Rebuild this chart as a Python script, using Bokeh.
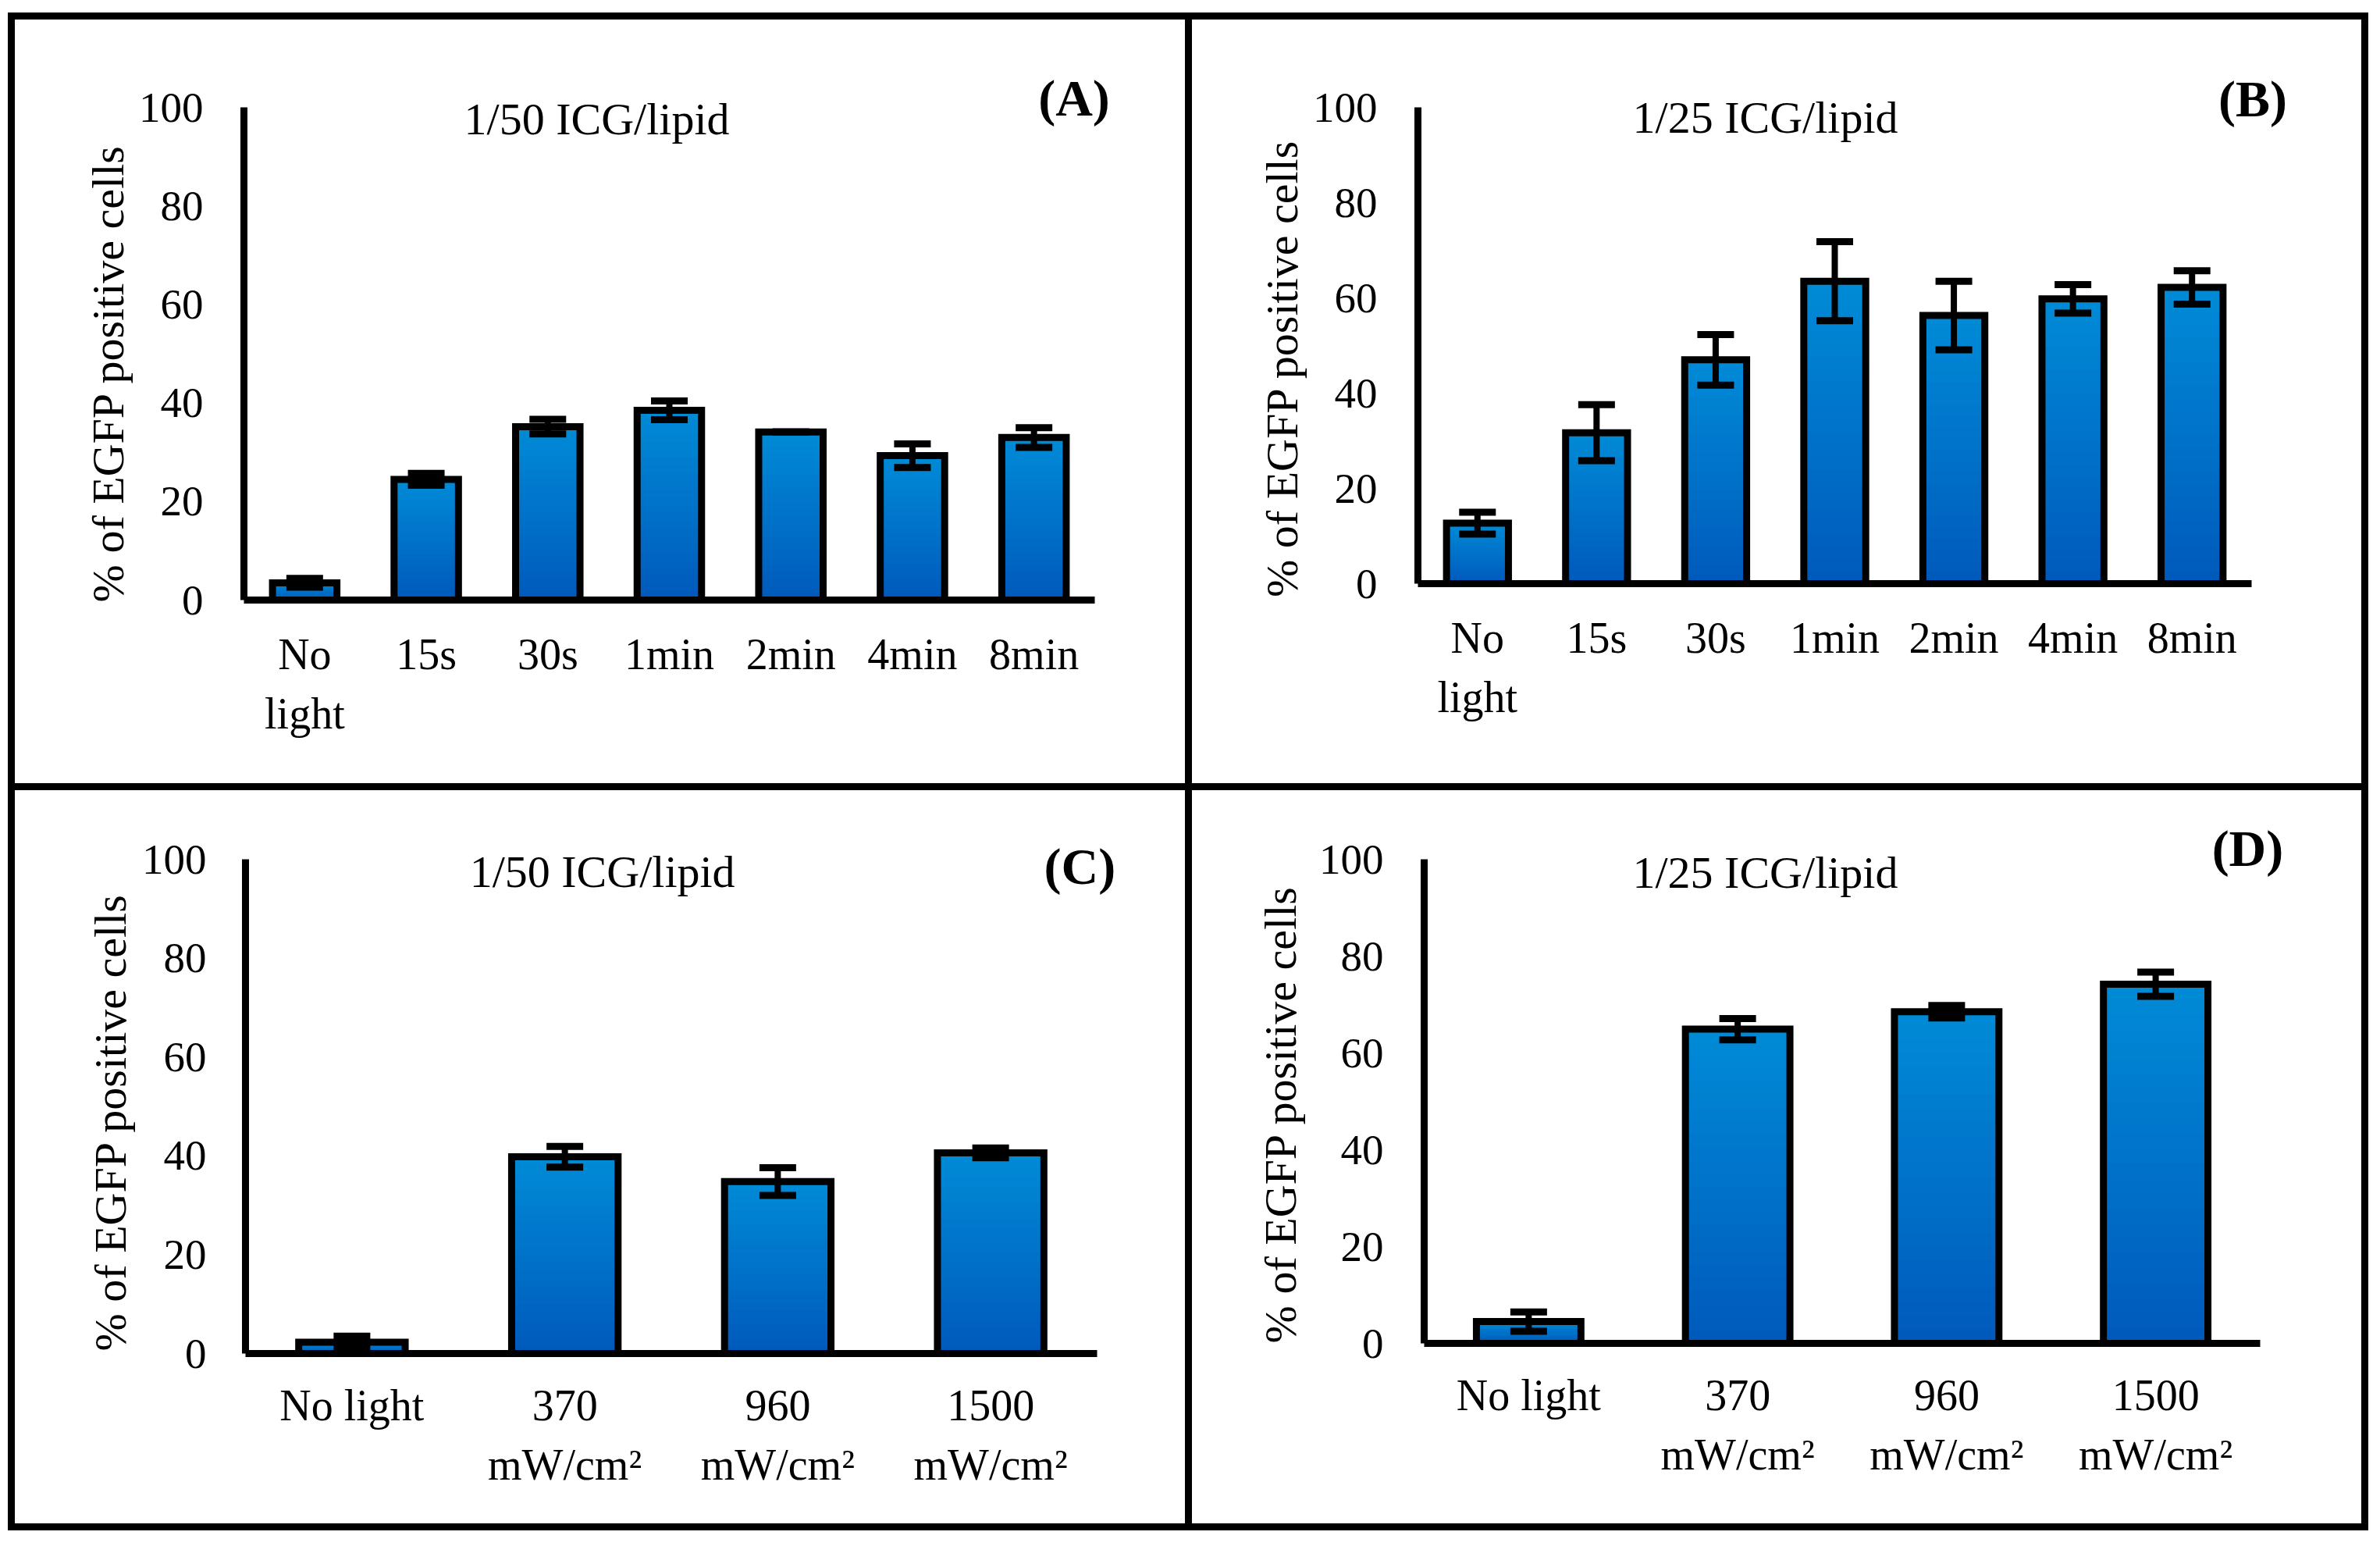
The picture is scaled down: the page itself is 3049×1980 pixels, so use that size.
from bokeh.plotting import figure
from bokeh.models import (ColumnDataSource, Range1d, FixedTicker, LinearAxis,
                          Label, Whisker, TeeHead, Spacer)
from bokeh.layouts import column, row
from bokeh.embed import file_html
from bokeh.resources import INLINE

# ---------------- data ----------------
TIME_CATS = ["No\nlight", "15s", "30s", "1min", "2min", "4min", "8min"]
POWER_CATS = ["No light", "370\nmW/cm\u00b2", "960\nmW/cm\u00b2", "1500\nmW/cm\u00b2"]

A_VALUES = [3.5, 24.5, 35.2, 38.5, 34.1, 29.3, 33.0]
A_ERRORS = [0.9, 1.2, 1.5, 1.9, 0.0, 2.4, 2.0]

B_VALUES = [12.7, 31.7, 47.0, 63.5, 56.3, 59.8, 62.2]
B_ERRORS = [2.3, 5.9, 5.3, 8.3, 7.2, 3.0, 3.5]

C_VALUES = [2.3, 39.8, 34.8, 40.6]
C_ERRORS = [1.2, 2.1, 2.8, 1.0]

D_VALUES = [4.5, 64.9, 68.5, 74.2]
D_ERRORS = [2.0, 2.2, 1.3, 2.5]

Y_TICKS = [0, 20, 40, 60, 80, 100]
TITLE_50 = "1/50 ICG/lipid"
TITLE_25 = "1/25 ICG/lipid"
TAGS = ["(A)", "(B)", "(C)", "(D)"]
Y_LABEL = "% of EGFP positive cells"

# ---------------- style ----------------
FONT = "Liberation Serif"
TOP_RGB = (0, 138, 214)
BOT_RGB = (0, 90, 188)
N_SLICES = 24
EXTRA_TOP = 50     # px of frame above the 100 tick (room for panel tags)
EXTRA_RIGHT = 60   # px of frame right of the x axis end


def hexcol(rgb):
    return "#%02x%02x%02x" % tuple(int(round(c)) for c in rgb)


def panel(cats, vals, errs, title, tag, width, height, borders, frame_px,
          title_xy, tag_xy, bar_w, x_standoff, y_standoff, label_y,
          ylab_standoff):
    left, right, top, bottom = borders
    L, H = frame_px  # pixel length of x axis and of the 0..100 y axis
    n = len(cats)
    xs = [i + 0.5 for i in range(n)]
    p = figure(x_range=Range1d(0, n * (L + EXTRA_RIGHT) / L),
               y_range=Range1d(0, 100 * (H + EXTRA_TOP) / H),
               width=width, height=height,
               min_border_left=left, min_border_right=right,
               min_border_top=top, min_border_bottom=bottom,
               output_backend="svg", toolbar_location=None,
               background_fill_color="white", border_fill_color="white",
               outline_line_color=None)
    p.outline_line_alpha = 0
    p.xgrid.visible = False
    p.ygrid.visible = False

    # gradient bars (painter's algorithm, light at top -> dark at bottom)
    for k in range(N_SLICES):
        t = k / (N_SLICES - 1)
        rgb = [TOP_RGB[i] + (BOT_RGB[i] - TOP_RGB[i]) * t for i in range(3)]
        frac = 1.0 - k / N_SLICES
        p.vbar(x=xs, top=[v * frac for v in vals], bottom=0, width=bar_w,
               fill_color=hexcol(rgb), line_color=None)
    p.vbar(x=xs, top=vals, bottom=0, width=bar_w, fill_color=None,
           line_color="black", line_width=9, line_join="miter")

    src = ColumnDataSource(dict(x=xs,
                                upper=[v + e for v, e in zip(vals, errs)],
                                lower=[v - e for v, e in zip(vals, errs)]))
    w = Whisker(source=src, base="x", upper="upper", lower="lower",
                line_color="black", line_width=8,
                upper_head=TeeHead(size=47, line_width=9, line_color="black"),
                lower_head=TeeHead(size=47, line_width=9, line_color="black"),
                level="overlay")
    p.add_layout(w)

    for ax in (p.xaxis, p.yaxis):
        ax.axis_line_width = 9
        ax.axis_line_color = "black"
        ax.major_tick_line_color = None
        ax.minor_tick_line_color = None
        ax.major_tick_out = 0
        ax.major_tick_in = 0
        ax.major_label_text_font = FONT
        ax.major_label_text_color = "black"

    p.xaxis.ticker = FixedTicker(ticks=xs)
    p.xaxis.major_label_overrides = {x: c for x, c in zip(xs, cats)}
    p.xaxis.bounds = (0, n)
    p.xaxis.major_label_standoff = x_standoff
    p.xaxis.major_label_text_font_size = "56px"
    p.xaxis.major_label_text_line_height = 1.24

    p.yaxis.ticker = FixedTicker(ticks=Y_TICKS)
    p.yaxis.bounds = (0, 100)
    p.yaxis.major_label_standoff = y_standoff
    p.yaxis.major_label_text_font_size = "55px"

    # y-axis title, placed as the single (rotated) label of an extra axis
    lab_ax = LinearAxis(ticker=FixedTicker(ticks=[label_y]),
                        major_label_overrides={label_y: Y_LABEL},
                        major_label_orientation="vertical",
                        bounds=(0, 100), axis_line_color=None,
                        major_tick_line_color=None, minor_tick_line_color=None,
                        major_tick_out=0, major_tick_in=0,
                        major_label_standoff=ylab_standoff,
                        major_label_text_font=FONT,
                        major_label_text_font_size="58px",
                        major_label_text_color="black")
    p.add_layout(lab_ax, "left")

    p.add_layout(Label(x=title_xy[0], y=title_xy[1], text=title,
                       text_font=FONT, text_font_size="58px",
                       text_align="center", text_baseline="middle",
                       text_color="black"))
    p.add_layout(Label(x=tag_xy[0], y=tag_xy[1], text=tag,
                       text_font=FONT, text_font_size="66px",
                       text_font_style="bold",
                       text_align="center", text_baseline="middle",
                       text_color="black"))
    return p


pA = panel(TIME_CATS, A_VALUES, A_ERRORS, TITLE_50, TAGS[0], 1499, 978,
           (293, 116 - EXTRA_RIGHT, 112 - EXTRA_TOP, 235), (1090, 631),
           (2.903, 97.6), (6.83, 101.9), 0.53, 38, 52, 46.0, 3)
pB = panel(TIME_CATS, B_VALUES, B_ERRORS, TITLE_25, TAGS[1], 1498, 957,
           (289, 141 - EXTRA_RIGHT, 112 - EXTRA_TOP, 235), (1068, 610),
           (2.917, 97.9), (7.01, 101.8), 0.52, 38, 52, 45.2, 3)
pC = panel(POWER_CATS, C_VALUES, C_ERRORS, TITLE_50, TAGS[2], 1499, 939,
           (295, 113 - EXTRA_RIGHT, 88 - EXTRA_TOP, 218), (1091, 633),
           (1.676, 97.5), (3.919, 98.6), 0.5, 35, 50, 46.8, 4)
pD = panel(POWER_CATS, D_VALUES, D_ERRORS, TITLE_25, TAGS[3], 1498, 926,
           (297, 130 - EXTRA_RIGHT, 88 - EXTRA_TOP, 218), (1071, 620),
           (1.632, 97.3), (3.94, 102.2), 0.5, 35, 52, 47.3, 13)

wrapA = column(pA, styles={"background-color": "white"})
wrapB = column(pB, styles={"background-color": "white",
                           "padding": "0px 0px 21px 0px"})
wrapC = column(pC, styles={"background-color": "white"})
wrapD = column(pD, styles={"background-color": "white",
                           "padding": "0px 0px 13px 0px"})

grid = column(row(wrapA, wrapB, spacing=9), row(wrapC, wrapD, spacing=9),
              spacing=9, styles={"background-color": "black", "padding": "9px"})
page = column(Spacer(width=10, height=16), row(Spacer(width=10, height=10), grid))

open("out.html", "w").write(file_html(page, INLINE))
